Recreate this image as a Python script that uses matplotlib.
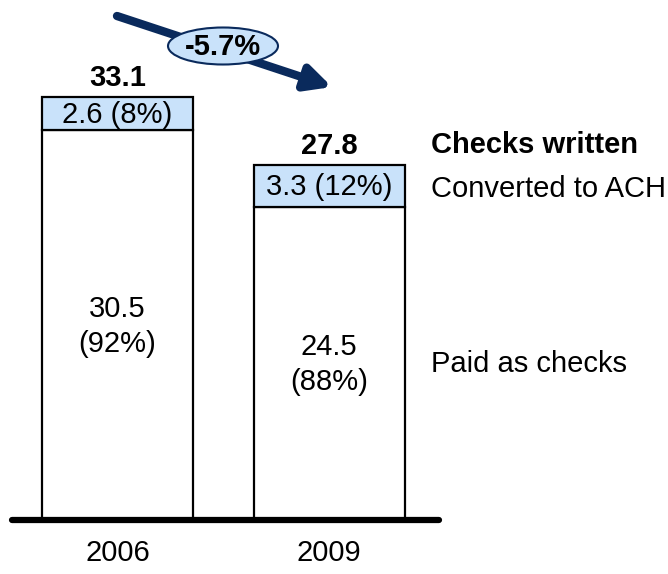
import matplotlib.pyplot as plt
from matplotlib.patches import Ellipse
import numpy as np

plt.rcParams['font.family'] = ['Liberation Sans', 'DejaVu Sans']

years = ['2006', '2009']
paid = [30.5, 24.5]
converted = [2.6, 3.3]
paid_pct = [92, 88]
converted_pct = [8, 12]
change_label = '-5.7%'

LIGHT_BLUE = '#C9E2FA'
NAVY = '#0A2A5C'
FS = 21


def main():
    fig = plt.figure(figsize=(6.68, 5.74), dpi=100)
    ax = fig.add_axes([0, 0, 1, 1])
    scale = 12.78  # px per unit
    ax.set_ylim(-(574 - 520) / scale, 520 / scale)
    ax.set_xlim(-117.5 / 211.5, (668 - 117.5) / 211.5)
    ax.set_axis_off()

    x = np.arange(len(years))
    totals = np.array(paid) + np.array(converted)
    w = 151 / 211.5

    ax.bar(x, paid, width=w, color='white', edgecolor='black', linewidth=1.6, zorder=2)
    ax.bar(x, converted, bottom=paid, width=w, color=LIGHT_BLUE,
           edgecolor='black', linewidth=1.6, zorder=2)

    for xi, p, c, pp, cp, t in zip(x, paid, converted, paid_pct, converted_pct, totals):
        ax.text(xi, p + c / 2 - 0.1, f'{c} ({cp}%)', ha='center', va='center', fontsize=FS)
        ax.text(xi, p / 2 - 0.1, f'{p}\n({pp}%)',
                ha='center', va='center', fontsize=FS, linespacing=1.3)
        ax.text(xi, t + 1.45, f'{t:.1f}', ha='center', va='center', fontsize=FS,
                fontweight='bold')
        ax.text(xi, -2.55, years[xi], ha='center', va='center', fontsize=FS)

    # baseline
    ax.plot([-0.5, 1.52], [0, 0], color='black', linewidth=4.5,
            solid_capstyle='round', zorder=3, clip_on=False)

    # labels on the right
    lx = 1.48
    ax.text(lx, (520 - 145) / scale, 'Checks written', ha='left', va='center',
            fontsize=FS, fontweight='bold')
    ax.text(lx, paid[1] + converted[1] / 2 - 0.25, 'Converted to ACH', ha='left',
            va='center', fontsize=FS)
    ax.text(lx, (520 - 364) / scale, 'Paid as checks', ha='left', va='center',
            fontsize=FS)

    # trend arrow with change bubble
    ax.annotate('', xy=(332 / 668, 1 - 87 / 574), xytext=(117 / 668, 1 - 16 / 574),
                xycoords='figure fraction', textcoords='figure fraction',
                arrowprops=dict(arrowstyle='-|>,head_length=1.5,head_width=0.75',
                                color=NAVY, lw=6, shrinkA=0, shrinkB=0))
    ell = Ellipse((223 / 668, 1 - 46 / 574), 110 / 668, 37 / 574,
                  transform=fig.transFigure, facecolor=LIGHT_BLUE,
                  edgecolor=NAVY, linewidth=1.5, zorder=5)
    fig.patches.append(ell)
    fig.text(223 / 668, 1 - 47 / 574, change_label, ha='center', va='center',
             fontsize=FS, fontweight='bold', zorder=6)

    plt.savefig('out.png', dpi=100)


if __name__ == '__main__':
    main()
